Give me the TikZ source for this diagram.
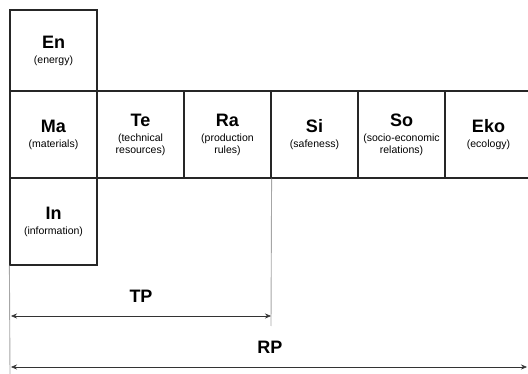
\documentclass[tikz,border=0pt]{standalone}
\usepackage{fontspec}
\setmainfont{Liberation Sans}
\usetikzlibrary{arrows.meta}
\begin{document}
\begin{tikzpicture}[x=1pt,y=-1pt,
  cell/.style={draw=black!85,line width=1.2pt,minimum width=87pt,minimum height=87pt,inner sep=0pt,align=center,font=\fontsize{10.5}{12}\selectfont},
  guide/.style={draw=black!35,line width=0.9pt},
  dim/.style={draw=black!80,line width=0.6pt,{Stealth[length=6pt,width=5pt,inset=2pt]}-{Stealth[length=6pt,width=5pt,inset=2pt]}},
  big/.style={font=\bfseries\fontsize{18}{20}\selectfont}]
\useasboundingbox (0,0) rectangle (528,374);
\clip (0,0) rectangle (528,374);
\newcommand{\cellt}[2]{{\bfseries\fontsize{18}{18}\selectfont #1}\\[3pt] #2}
\node[cell,minimum height=81pt] (en) at (53.5,50.5) {\cellt{En}{(energy)}};
\node[cell] (ma) at (53.5,134.5) {\cellt{Ma}{(materials)}};
\node[cell] (te) at (140.5,134.5) {\cellt{Te}{(technical\\resources)}};
\node[cell] (ra) at (227.5,134.5) {\cellt{Ra}{(production\\rules)}};
\node[cell] (si) at (314.5,134.5) {\cellt{Si}{(safeness)}};
\node[cell] (so) at (401.5,134.5) {\cellt{So}{(socio-economic\\relations)}};
\node[cell] (eko) at (488.5,134.5) {\cellt{Eko}{(ecology)}};
\node[cell] (in) at (53.5,221.5) {\cellt{In}{(information)}};
\coordinate (l0) at (10,374);
\coordinate (r0) at (271,326);
\draw[guide] (in.south west) -- (l0);
\draw[guide] (ra.south east) -- (r0);
\coordinate (tpa) at (11,316);
\coordinate (tpb) at (271,316);
\coordinate (rpa) at (11,367);
\coordinate (rpb) at (527,367);
\draw[dim] (tpa) -- (tpb);
\draw[dim] (rpa) -- (rpb);
\node[big] (tp) at (141,296) {TP};
\node[big] (rp) at (270,347) {RP};
\end{tikzpicture}
\end{document}
